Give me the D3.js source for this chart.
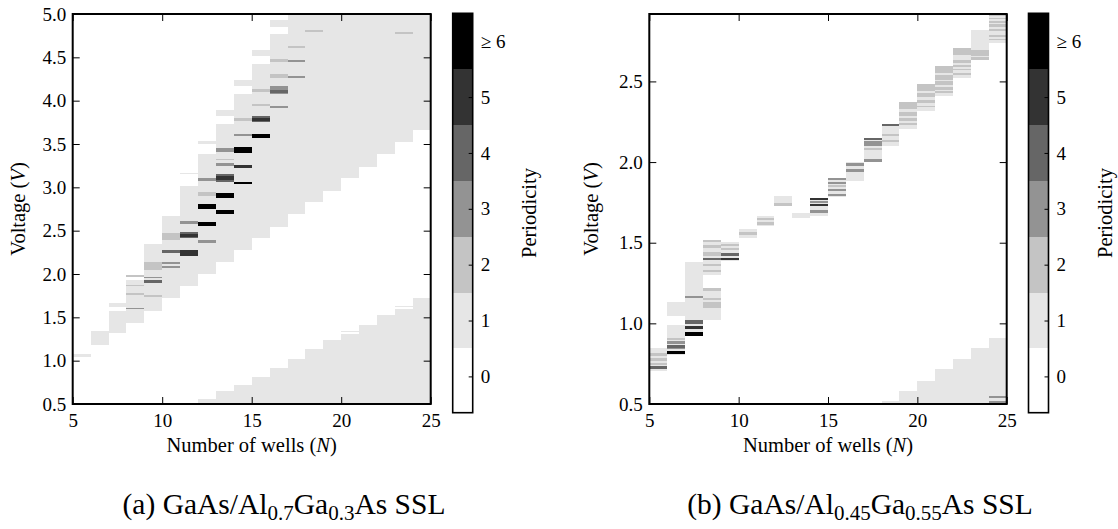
<!DOCTYPE html>
<html><head><meta charset="utf-8">
<script src="https://cdn.jsdelivr.net/npm/d3@7"></script>
<style>
body{margin:0;background:#fff;}
svg text{font-family:"Liberation Serif","DejaVu Serif",serif;fill:#000;}
</style></head><body>
<svg id="c" width="1118" height="529"></svg>
<script>
// ---------------- data ----------------
const xTicks = [5, 10, 15, 20, 25];
const yTicksA = [0.5, 1.0, 1.5, 2.0, 2.5, 3.0, 3.5, 4.0, 4.5, 5.0];
const yTicksB = [0.5, 1.0, 1.5, 2.0, 2.5];
const periodLevels = [0, 1, 2, 3, 4, 5, 6];
const periodLabels = ["0", "1", "2", "3", "4", "5", "≥ 6"];
const levelGrays = ["#ffffff", "#e6e6e6", "#c4c4c4", "#939393", "#666666", "#333333", "#000000"];

// periodicity-1 regions: [N, V low, V high]
const bandsA = [
  [5,1.046,1.073],[6,1.185,1.342],[7,1.323,1.577],[7,1.623,1.662],[8,1.438,1.93],
  [9,1.577,2.342],[10,1.72,2.669],[11,1.86,3.012],[11,3.152,3.17],[12,2.0,3.383],[12,3.50,3.53],
  [13,2.138,3.73],[13,3.823,3.892],[14,2.277,4.075],[14,4.169,4.238],[15,2.412,4.42],[15,4.515,4.585],
  [16,2.546,4.773],[16,4.846,4.93],[17,2.695,5.0],[18,2.83,5.0],[19,2.96,5.0],[20,3.104,5.0],
  [21,3.238,5.0],[22,3.385,5.0],[23,3.52,5.0],[24,3.661,5.0],
  [12,0.5,0.554],[13,0.5,0.65],[14,0.5,0.725],[15,0.5,0.812],[16,0.5,0.91],[17,0.5,1.02],
  [18,0.5,1.136],[19,0.5,1.24],[20,0.5,1.305],[20,1.327,1.342],[21,0.5,1.411],[22,0.5,1.53],
  [23,0.5,1.60],[23,1.618,1.635],[24,0.5,1.719]
];
// higher-periodicity stripes: [N, V low, V high, periodicity]
const stripesA = [
  [8,1.968,1.988,2],[8,1.86,1.876,2],[8,1.76,1.778,2],[8,1.598,1.612,3],
  [9,2.046,2.135,2],[9,1.95,1.962,3],[9,1.90,1.93,4],[9,1.738,1.756,2],
  [10,2.393,2.47,2],[10,2.245,2.278,4],[10,2.12,2.135,3],[10,2.068,2.09,3],
  [11,2.577,2.615,3],[11,2.412,2.48,4],[11,2.43,2.465,5],[11,2.208,2.272,5],
  [12,3.073,3.104,3],[12,2.904,2.942,2],[12,2.746,2.804,6],[12,2.554,2.60,6],[12,2.36,2.39,3],
  [13,3.41,3.45,3],[13,3.315,3.33,2],[13,3.25,3.277,3],[13,3.065,3.15,4],[13,3.085,3.13,5],
  [13,2.873,2.938,6],[13,2.692,2.735,6],
  [14,3.76,3.805,2],[14,3.59,3.62,3],[14,3.40,3.47,6],[14,3.22,3.262,5],[14,3.04,3.065,6],
  [15,4.10,4.14,2],[15,3.94,3.958,2],[15,3.75,3.82,4],[15,3.765,3.80,5],[15,3.565,3.615,6],
  [16,4.45,4.485,2],[16,4.265,4.305,2],[16,4.08,4.17,3],[16,4.09,4.125,4],[16,3.91,3.938,3],
  [17,4.612,4.632,2],[17,4.446,4.468,3],[17,4.262,4.285,3],
  [18,4.793,4.813,2],[23,4.773,4.789,2]
];

const bandsB = [
  [5,0.702,0.847],[6,0.806,0.991],[6,1.047,1.13],[7,0.92,1.378],[8,1.023,1.219],[8,1.302,1.514],
  [9,1.388,1.502],[10,1.529,1.583],[11,1.601,1.665],[12,1.729,1.787],[13,1.653,1.686],
  [14,1.667,1.777],[15,1.783,1.901],[16,1.88,1.998],[17,1.998,2.149],[18,2.10,2.236],
  [19,2.205,2.37],[20,2.314,2.486],[21,2.407,2.593],[22,2.52,2.707],[23,2.635,2.82],[24,2.738,2.92],
  [18,0.5,0.516],[19,0.5,0.583],[20,0.5,0.645],[21,0.5,0.715],[22,0.5,0.782],[23,0.5,0.847],[24,0.5,0.909]
];
const stripesB = [
  [5,0.80,0.818,2],[5,0.765,0.785,2],[5,0.74,0.755,2],[5,0.714,0.734,4],
  [6,0.897,0.908,2],[6,0.875,0.888,3],[6,0.85,0.866,4],[6,0.84,0.85,3],[6,0.808,0.828,6],
  [7,1.157,1.171,3],[7,0.995,1.022,4],[7,0.965,0.983,5],[7,0.92,0.944,6],
  [8,1.502,1.514,2],[8,1.466,1.488,2],[8,1.42,1.44,2],[8,1.39,1.403,4],[8,1.353,1.37,2],[8,1.316,1.333,2],
  [8,1.198,1.219,2],[8,1.147,1.157,2],[8,1.095,1.13,2],
  [9,1.48,1.495,2],[9,1.455,1.468,2],[9,1.42,1.435,4],[9,1.392,1.408,5],
  [10,1.55,1.564,2],[11,1.642,1.653,2],[11,1.608,1.627,2],[12,1.729,1.746,2],
  [14,1.762,1.777,5],[14,1.748,1.758,3],[14,1.727,1.742,5],[14,1.684,1.705,3],
  [15,1.891,1.901,3],[15,1.862,1.874,3],[15,1.845,1.858,2],[15,1.822,1.832,3],[15,1.79,1.805,3],
  [16,1.977,1.994,3],[16,1.936,1.957,3],
  [17,2.134,2.149,4],[17,2.097,2.128,3],[17,2.075,2.088,2],[17,2.0,2.02,3],
  [18,2.223,2.236,4],[18,2.163,2.174,2],[18,2.122,2.139,2],
  [19,2.331,2.37,2],[19,2.285,2.308,2],[19,2.255,2.272,2],[19,2.232,2.242,2],
  [20,2.438,2.486,2],[20,2.404,2.428,2],[20,2.366,2.387,2],[20,2.339,2.35,2],
  [21,2.552,2.593,2],[21,2.51,2.537,2],[21,2.48,2.50,2],[21,2.448,2.464,2],[21,2.43,2.44,2],
  [22,2.665,2.707,2],[22,2.614,2.634,2],[22,2.588,2.60,2],[22,2.57,2.58,2],[22,2.54,2.555,2],
  [23,2.655,2.697,2],[23,2.635,2.65,2],
  [24,2.905,2.915,2],[24,2.885,2.895,2],[24,2.865,2.875,2],[24,2.835,2.855,2],[24,2.815,2.825,2],
  [24,2.775,2.785,2],[24,2.755,2.765,2],
  [24,0.537,0.547,3],[24,0.502,0.516,3]
];

// ---------------- drawing ----------------
const svg = d3.select("#c");
const FONT = '"Liberation Serif","DejaVu Serif",serif';
const color = d3.scaleOrdinal().domain(periodLevels).range(levelGrays);

function panel(o) {
  const x = d3.scaleLinear().domain([5, 25]).range([o.left, o.right]);
  const y = d3.scaleLinear().domain(o.yDomain).range([o.bottom, o.top]);
  const g = svg.append("g");
  const clip = "clip" + o.id;
  g.append("clipPath").attr("id", clip).append("rect")
    .attr("x", o.left).attr("y", o.top).attr("width", o.right - o.left).attr("height", o.bottom - o.top);
  const cells = g.append("g").attr("clip-path", `url(#${clip})`);
  const all = o.bands.map(d => [d[0], d[1], d[2], 1]).concat(o.stripes);
  cells.selectAll("rect").data(all).join("rect")
    .attr("x", d => x(d[0]))
    .attr("width", d => x(d[0] + 1) - x(d[0]))
    .attr("y", d => y(d[2]))
    .attr("height", d => Math.max(0.8, y(d[1]) - y(d[2])))
    .attr("fill", d => color(d[3]))
    .attr("shape-rendering", "crispEdges");

  const fmtY = d3.format(".1f");
  const ax = (sel) => sel.attr("font-family", FONT).attr("font-size", 19)
      .call(s => s.select(".domain").remove())
      .call(s => s.selectAll(".tick line").attr("stroke", "#000").attr("stroke-width", 1));
  g.append("g").attr("transform", `translate(0,${o.bottom})`)
    .call(d3.axisBottom(x).tickValues(xTicks).tickSize(-7).tickPadding(9.3).tickFormat(d3.format("d"))).call(ax);
  g.append("g").attr("transform", `translate(0,${o.top})`)
    .call(d3.axisTop(x).tickValues(xTicks).tickSize(-7).tickFormat("")).call(ax);
  g.append("g").attr("transform", `translate(${o.left},0)`)
    .call(d3.axisLeft(y).tickValues(o.yTicks).tickSize(-7).tickPadding(6.5).tickFormat(fmtY)).call(ax);
  g.append("g").attr("transform", `translate(${o.right},0)`)
    .call(d3.axisRight(y).tickValues(o.yTicks).tickSize(-7).tickFormat("")).call(ax);
  g.append("rect").attr("x", o.left).attr("y", o.top).attr("width", o.right - o.left)
    .attr("height", o.bottom - o.top).attr("fill", "none").attr("stroke", "#000").attr("stroke-width", 2);

  // axis labels
  const xl = g.append("text").attr("x", (o.left + o.right) / 2).attr("y", 452)
    .attr("text-anchor", "middle").attr("font-size", 20.5);
  xl.append("tspan").text("Number of wells (");
  xl.append("tspan").attr("font-style", "italic").text("N");
  xl.append("tspan").text(")");
  const yl = g.append("text").attr("transform", `translate(${o.yLabelX},${(o.top + o.bottom) / 2}) rotate(-90)`)
    .attr("text-anchor", "middle").attr("font-size", 20.5);
  yl.append("tspan").text("Voltage (");
  yl.append("tspan").attr("font-style", "italic").text("V");
  yl.append("tspan").text(")");

  // colorbar
  const cb = d3.scaleLinear().domain([-0.65, 6.5]).range([412.7, 13.3]);
  const cg = g.append("g");
  cg.selectAll("rect").data(periodLevels).join("rect")
    .attr("x", o.cbLeft).attr("width", 20)
    .attr("y", d => cb(d === 6 ? 6.5 : d + 0.5))
    .attr("height", d => cb(d === 0 ? -0.65 : d - 0.5) - cb(d === 6 ? 6.5 : d + 0.5))
    .attr("fill", d => color(d)).attr("shape-rendering", "crispEdges");
  cg.append("g").attr("transform", `translate(${o.cbLeft + 20},0)`)
    .call(d3.axisRight(cb).tickValues(periodLevels).tickSize(-4).tickPadding(8)
      .tickFormat((d, i) => periodLabels[i])).call(ax);
  cg.append("rect").attr("x", o.cbLeft).attr("y", 13.3).attr("width", 20).attr("height", 412.7 - 13.3)
    .attr("fill", "none").attr("stroke", "#000").attr("stroke-width", 1.6);
  g.append("text").attr("transform", `translate(${o.cbLeft + 83},213) rotate(-90)`)
    .attr("text-anchor", "middle").attr("font-size", 20.5).text("Periodicity");

  // caption
  const cap = g.append("text").attr("x", o.capX).attr("y", 514).attr("text-anchor", "middle").attr("font-size", 29.5);
  o.caption.forEach(p => {
    if (p.sub) {
      cap.append("tspan").attr("font-size", 21).attr("dy", 6).text(p.t);
    } else {
      cap.append("tspan").attr("dy", p.back ? -6 : 0).text(p.t);
    }
  });
}

panel({
  id: "A", left: 72.7, right: 430.7, top: 14, bottom: 404, yDomain: [0.5, 5.0], yTicks: yTicksA,
  bands: bandsA, stripes: stripesA, cbLeft: 452.7, yLabelX: 25, capX: 284,
  caption: [{t: "(a) GaAs/Al"}, {t: "0.7", sub: true}, {t: "Ga", back: true}, {t: "0.3", sub: true}, {t: "As SSL", back: true}]
});
panel({
  id: "B", left: 649.3, right: 1006.7, top: 14, bottom: 404, yDomain: [0.5, 2.918], yTicks: yTicksB,
  bands: bandsB, stripes: stripesB, cbLeft: 1028.5, yLabelX: 598, capX: 860,
  caption: [{t: "(b) GaAs/Al"}, {t: "0.45", sub: true}, {t: "Ga", back: true}, {t: "0.55", sub: true}, {t: "As SSL", back: true}]
});
</script>
</body></html>
